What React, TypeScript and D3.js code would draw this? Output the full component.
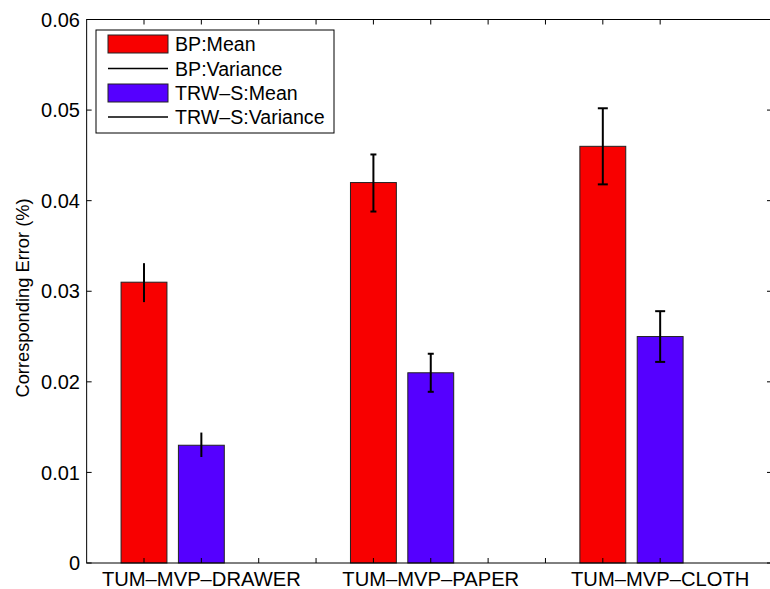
import React from "react";
import * as d3 from "d3";

const categories = ["TUM-MVP-DRAWER", "TUM-MVP-PAPER", "TUM-MVP-CLOTH"];
const bpMean = [0.031, 0.042, 0.046];
const bpLow = [0.0288, 0.0388, 0.0418];
const bpHigh = [0.0331, 0.0451, 0.0502];
const trwMean = [0.013, 0.021, 0.025];
const trwLow = [0.0117, 0.0189, 0.0222];
const trwHigh = [0.0144, 0.0231, 0.0278];
const capWidths = [0, 6, 10];
const yTicks = [0, 0.01, 0.02, 0.03, 0.04, 0.05, 0.06];
const xTicks = [1, 2, 3, 4, 5, 6, 7, 8, 9, 10];
const legendLabels = ["BP:Mean", "BP:Variance", "TRW-S:Mean", "TRW-S:Variance"];

const W = 770;
const H = 589;
const left = 86.65;
const right = 772;
const top = 19.5;
const bottom = 563;
const font = "'Liberation Sans', Arial, Helvetica, sans-serif";
const RED = "#f80000";
const BLUE = "#5500ff";

export default function App() {
  const x = d3.scaleLinear().domain([0, 11.95]).range([left, right]);
  const y = d3.scaleLinear().domain([0, 0.06]).range([bottom, top]);
  const bw = x(0.8) - x(0);
  const tick = 5;

  const bars: { pos: number; v: number; lo: number; hi: number; color: string; cap: number }[] = [];
  categories.forEach((_, g) => {
    bars.push({ pos: 4 * g + 1, v: bpMean[g], lo: bpLow[g], hi: bpHigh[g], color: RED, cap: capWidths[g] });
    bars.push({ pos: 4 * g + 2, v: trwMean[g], lo: trwLow[g], hi: trwHigh[g], color: BLUE, cap: capWidths[g] });
  });

  const legX = 96, legY = 30, legW = 238, legH = 103;
  const rowY = [44, 68.5, 93, 117];

  return (
    <svg width={W} height={H} style={{ position: "absolute", left: 0, top: 0, background: "#fff" }} fontFamily={font}>
      <rect x={0} y={0} width={W} height={H} fill="#fff" />
      {bars.map((b, i) => (
        <rect key={"b" + i} x={x(b.pos) - bw / 2} y={y(b.v)} width={bw} height={y(0) - y(b.v)} fill={b.color} stroke="#222" strokeWidth={1} />
      ))}
      {bars.map((b, i) => (
        <g key={"e" + i} stroke="#000" strokeWidth={2}>
          <line x1={x(b.pos)} x2={x(b.pos)} y1={y(b.lo)} y2={y(b.hi)} />
          {b.cap > 0 && (
            <>
              <line x1={x(b.pos) - b.cap / 2} x2={x(b.pos) + b.cap / 2} y1={y(b.lo)} y2={y(b.lo)} />
              <line x1={x(b.pos) - b.cap / 2} x2={x(b.pos) + b.cap / 2} y1={y(b.hi)} y2={y(b.hi)} />
            </>
          )}
        </g>
      ))}
      <rect x={left} y={top} width={right - left} height={bottom - top} fill="none" stroke="#000" strokeWidth={1} />
      {yTicks.map((t) => (
        <g key={"yt" + t}>
          <line x1={left} x2={left + tick} y1={y(t)} y2={y(t)} stroke="#000" />
          <line x1={right - tick} x2={right} y1={y(t)} y2={y(t)} stroke="#000" />
          <text x={80} y={y(t)} dy="0.36em" textAnchor="end" fontSize={20}>{String(t)}</text>
        </g>
      ))}
      {xTicks.map((t) => (
        <g key={"xt" + t}>
          <line x1={x(t)} x2={x(t)} y1={bottom} y2={bottom - tick} stroke="#000" />
          <line x1={x(t)} x2={x(t)} y1={top} y2={top + tick} stroke="#000" />
        </g>
      ))}
      {categories.map((c, g) => (
        <text key={c} x={x(4 * g + 2)} y={586} textAnchor="middle" fontSize={20.2}>{c.replace(/-/g, "\u2013")}</text>
      ))}
      <text transform={`translate(29, 298) rotate(-90)`} textAnchor="middle" fontSize={18.3}>Corresponding Error (%)</text>
      <rect x={legX} y={legY} width={legW} height={legH} fill="#fff" stroke="#000" strokeWidth={1} />
      {legendLabels.map((l, i) => (
        <g key={l}>
          {i % 2 === 0 ? (
            <rect x={108} y={rowY[i] - 9} width={60} height={18} fill={i === 0 ? RED : BLUE} stroke="#222" strokeWidth={1} />
          ) : (
            <line x1={108} x2={168} y1={rowY[i]} y2={rowY[i]} stroke="#000" strokeWidth={1.5} />
          )}
          <text x={175} y={rowY[i]} dy="0.36em" fontSize={19.6}>{l.replace(/-/g, "\u2013")}</text>
        </g>
      ))}
    </svg>
  );
}
